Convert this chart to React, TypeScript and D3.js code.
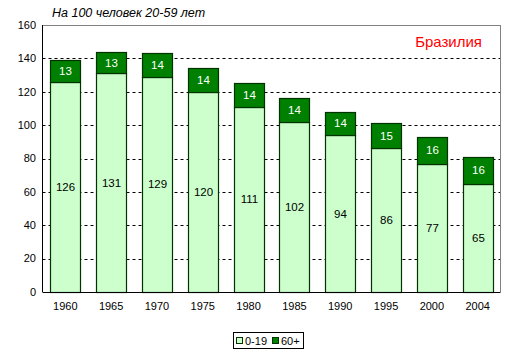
import * as React from 'react';
import * as d3 from 'd3';

const years = ['1960', '1965', '1970', '1975', '1980', '1985', '1990', '1995', '2000', '2004'];
const young = [126, 131, 129, 120, 111, 102, 94, 86, 77, 65];
const old = [13, 13, 14, 14, 14, 14, 14, 15, 16, 16];
const yTicks = [0, 20, 40, 60, 80, 100, 120, 140, 160];

const W = 516;
const H = 359;
const left = 42.5;
const right = 500.5;
const top = 25;
const bottom = 292;

const lightFill = '#ccffcc';
const darkFill = '#008000';
const edge = '#003300';
const font = 'Arial, "Liberation Sans", sans-serif';

export default function App() {
  const x = d3.scaleBand<string>().domain(years).range([left, right]).paddingInner(0.345).paddingOuter(0.17);
  const y = d3.scaleLinear().domain([0, 160]).range([bottom, top]);

  return (
    <svg width={W} height={H} style={{ position: 'absolute', left: 0, top: 0 }}>
      <rect width={W} height={H} fill="#fff" />
      <text x={52} y={17} fontFamily={font} fontStyle="italic" fontSize={12.5}>
        На 100 человек 20-59 лет
      </text>

      {/* grid */}
      {yTicks.filter(t => t > 0 && t < 160).map(t => (
        <line key={t} x1={left} x2={right} y1={Math.round(y(t)) + 0.5} y2={Math.round(y(t)) + 0.5}
          stroke="#000" strokeDasharray="3,3" />
      ))}
      <line x1={left} x2={right} y1={top + 0.5} y2={top + 0.5} stroke="#808080" />
      <line x1={right} x2={right} y1={top} y2={bottom} stroke="#808080" />

      {/* bars */}
      {years.map((yr, i) => {
        const bx = Math.round(x(yr)!) + 0.5;
        const bw = Math.round(x.bandwidth());
        const y0 = Math.round(y(0)) + 0.5;
        const y1 = Math.round(y(young[i])) + 0.5;
        const y2 = Math.round(y(young[i] + old[i])) + 0.5;
        const cx = bx + bw / 2;
        return (
          <g key={yr}>
            <rect x={bx} y={y1} width={bw} height={y0 - y1} fill={lightFill} stroke={edge} strokeWidth={1.2} />
            <rect x={bx} y={y2} width={bw} height={y1 - y2} fill={darkFill} stroke={edge} strokeWidth={1.2} />
            <text x={cx} y={y(young[i] / 2)} dy="0.35em" textAnchor="middle" fontFamily={font} fontSize={11.5}>
              {young[i]}
            </text>
            <text x={cx} y={y(young[i] + old[i] / 2)} dy="0.35em" textAnchor="middle" fontFamily={font}
              fontSize={11.5} fill="#fff">
              {old[i]}
            </text>
            <text x={x(yr)! + x.bandwidth() / 2} y={310} textAnchor="middle" fontFamily={font} fontSize={11}>
              {yr}
            </text>
          </g>
        );
      })}

      {/* axes */}
      <line x1={left} x2={left} y1={top} y2={bottom} stroke="#000" />
      <line x1={left} x2={right} y1={bottom + 0.5} y2={bottom + 0.5} stroke="#000" />
      {yTicks.map(t => (
        <text key={t} x={36} y={y(t)} dy="0.35em" textAnchor="end" fontFamily={font} fontSize={11}>
          {t}
        </text>
      ))}

      <text x={482} y={47} textAnchor="end" fontFamily={font} fontSize={15} fill="#ff0000">
        Бразилия
      </text>

      {/* legend */}
      <rect x={233.5} y={332.5} width={70} height={16} fill="#fff" stroke="#000" />
      <rect x={236.5} y={337.5} width={6} height={6} fill={lightFill} stroke={edge} />
      <text x={245} y={344.5} fontFamily={font} fontSize={11}>0-19</text>
      <rect x={272.5} y={337.5} width={6} height={6} fill={darkFill} stroke={edge} />
      <text x={281} y={344.5} fontFamily={font} fontSize={11}>60+</text>
    </svg>
  );
}
